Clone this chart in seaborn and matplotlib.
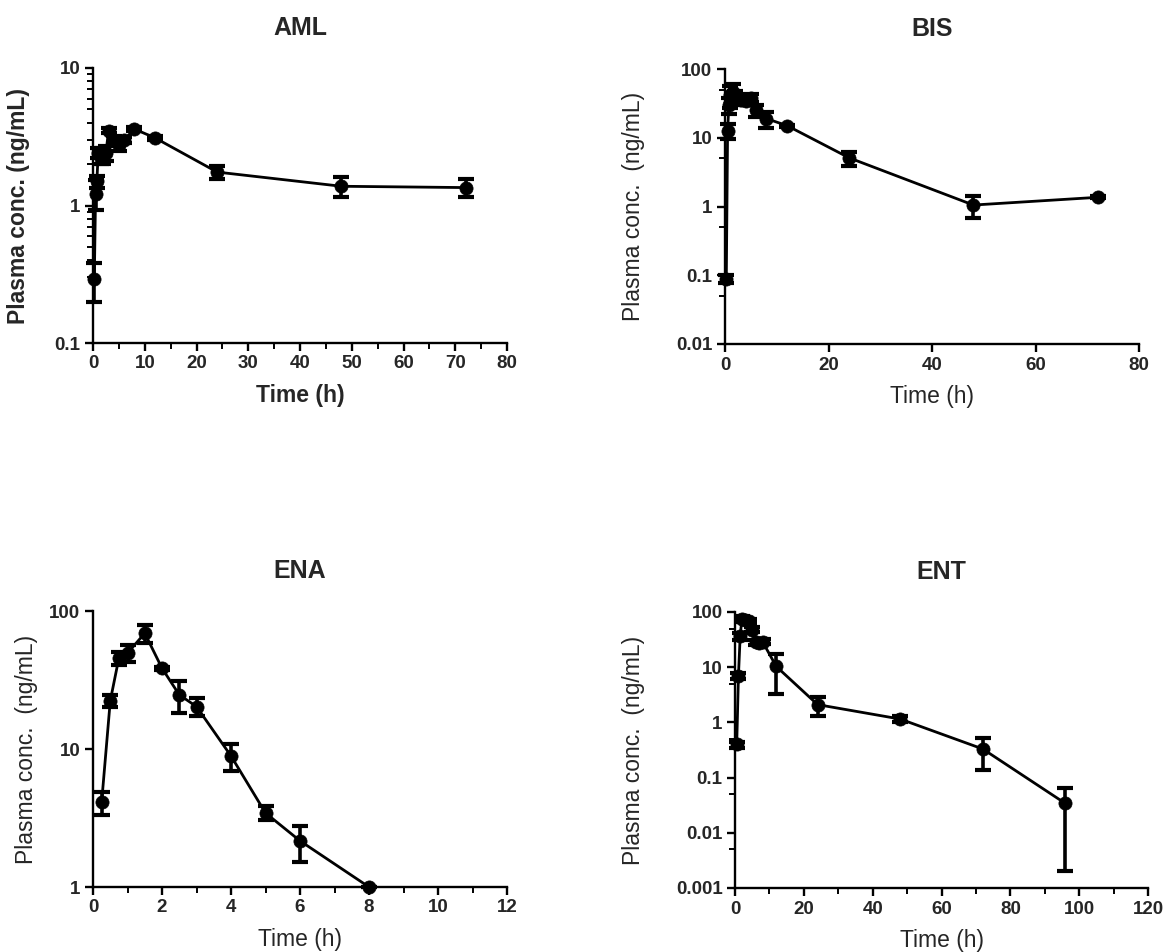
import numpy as np
import pandas as pd
import matplotlib
matplotlib.use("Agg")
import matplotlib.pyplot as plt
import matplotlib.ticker as mticker
import seaborn as sns

# AML
aml_time = [0.25, 0.5, 0.75, 1, 1.5, 2, 2.5, 3, 4, 5, 6, 8, 12, 24, 48, 72]
aml_mean = [0.29, 1.22, 1.5, 2.4, 2.2, 2.3, 2.4, 3.5, 3.0, 2.75, 3.0, 3.6, 3.1, 1.75, 1.38, 1.35]
aml_sd = [0.09, 0.3, 0.15, 0.2, 0.2, 0.3, 0.3, 0.15, 0.2, 0.25, 0.15, 0.1, 0.1, 0.2, 0.22, 0.2]

# BIS
bis_time = [0.25, 0.5, 0.75, 1, 1.5, 2, 3, 4, 5, 6, 8, 12, 24, 48, 72]
bis_mean = [0.088, 12.6, 30, 42, 46, 40, 36, 34, 38, 25, 19, 15, 5.1, 1.05, 1.36]
bis_sd = [0.012, 3, 8, 15, 14, 8, 6, 4, 5, 5, 5, 0.5, 1.2, 0.38, 0.05]

# ENA
ena_time = [0.25, 0.5, 0.75, 1, 1.5, 2, 2.5, 3, 4, 5, 6, 8]
ena_mean = [4.1, 22.3, 45.6, 49.5, 69, 38.5, 24.7, 20.3, 8.9, 3.44, 2.16, 1.0]
ena_sd = [0.8, 2.2, 5, 7, 10, 1, 6.5, 3, 2, 0.4, 0.63, 0.0]

# ENT
ent_time = [0.5, 1, 1.5, 2, 3, 4, 5, 6, 7, 8, 12, 24, 48, 72, 96]
ent_mean = [0.4, 7, 36, 75, 72, 68, 48, 28.5, 27, 29, 10.3, 2.1, 1.15, 0.33, 0.034]
ent_sd = [0.05, 1, 5, 8, 6, 6, 5, 3, 2, 3, 7, 0.8, 0.15, 0.19, 0.032]

sns.set_theme(style="ticks")
plt.rcParams['font.family'] = ['Liberation Sans', 'DejaVu Sans']

W, H = 1166, 952
fig = plt.figure(figsize=(W / 100, H / 100), dpi=100)


def make_ax(left, right, top, bottom):
    return fig.add_axes([left / W, (H - bottom) / H, (right - left) / W, (bottom - top) / H])


panels = [
    dict(name="AML", box=(93, 507, 68, 343), t=aml_time, m=aml_mean, s=aml_sd,
         ylim=(0.1, 10), xmax=80, xstep=10, xminor=5, ysubs=np.arange(2, 10),
         bold=True, ylab_x=-0.152),
    dict(name="BIS", box=(725, 1139, 69, 344), t=bis_time, m=bis_mean, s=bis_sd,
         ylim=(0.01, 100), xmax=80, xstep=20, xminor=None, ysubs=[5],
         bold=False, ylab_x=-0.193),
    dict(name="ENA", box=(93, 507, 611, 887), t=ena_time, m=ena_mean, s=ena_sd,
         ylim=(1, 100), xmax=12, xstep=2, xminor=1, ysubs=None,
         bold=False, ylab_x=-0.133),
    dict(name="ENT", box=(735, 1148, 612, 888), t=ent_time, m=ent_mean, s=ent_sd,
         ylim=(0.001, 100), xmax=120, xstep=20, xminor=10, ysubs=[5],
         bold=False, ylab_x=-0.218),
]

for p in panels:
    ax = make_ax(*p["box"])
    df = pd.DataFrame({"time": p["t"], "conc": p["m"], "sd": p["s"]})
    ax.errorbar(df["time"], df["conc"], yerr=df["sd"], fmt="none", ecolor="black",
                elinewidth=2.6, capsize=5.5, capthick=3, clip_on=False, zorder=3)
    sns.lineplot(data=df, x="time", y="conc", ax=ax, color="black", estimator=None,
                 linewidth=2.0, marker="o", markersize=9.5, markeredgecolor="black",
                 markeredgewidth=0.5, clip_on=False, zorder=4)

    ax.set_yscale("log")
    ax.set_ylim(*p["ylim"])
    ax.set_xlim(0, p["xmax"])
    ax.set_xticks(np.arange(0, p["xmax"] + 0.1, p["xstep"]))
    if p["xminor"]:
        ax.xaxis.set_minor_locator(mticker.MultipleLocator(p["xminor"]))
    else:
        ax.xaxis.set_minor_locator(mticker.NullLocator())
    ax.yaxis.set_major_locator(mticker.LogLocator(base=10, numticks=10))
    if p["ysubs"] is not None:
        ax.yaxis.set_minor_locator(mticker.LogLocator(base=10, subs=p["ysubs"], numticks=20))
    else:
        ax.yaxis.set_minor_locator(mticker.NullLocator())
    ax.yaxis.set_major_formatter(mticker.FuncFormatter(lambda v, pos: "%g" % v))
    ax.yaxis.set_minor_formatter(mticker.NullFormatter())
    ax.xaxis.set_major_formatter(mticker.FuncFormatter(lambda v, pos: "%g" % v))

    sns.despine(ax=ax)
    for side in ["left", "bottom"]:
        ax.spines[side].set_linewidth(1.7)
        ax.spines[side].set_color("black")
    ax.tick_params(axis="both", which="major", direction="out", length=6, width=1.7,
                   color="black", labelsize=13.5, pad=3)
    ax.tick_params(axis="both", which="minor", direction="out", length=4, width=1.4,
                   color="black")
    for lab in ax.get_xticklabels() + ax.get_yticklabels():
        lab.set_fontweight("bold")

    weight = "bold" if p["bold"] else "normal"
    ax.set_xlabel("Time (h)", fontsize=16.5, fontweight=weight, labelpad=8)
    ylab = "Plasma conc. (ng/mL)" if p["bold"] else "Plasma conc.  (ng/mL)"
    ax.set_ylabel(ylab, fontsize=16.5, fontweight=weight)
    ax.yaxis.set_label_coords(p["ylab_x"], 0.5)
    ax.set_title(p["name"], fontsize=18, fontweight="bold", pad=24)
    ax.set_facecolor("white")

fig.savefig("out.png", dpi=100, facecolor="white")
